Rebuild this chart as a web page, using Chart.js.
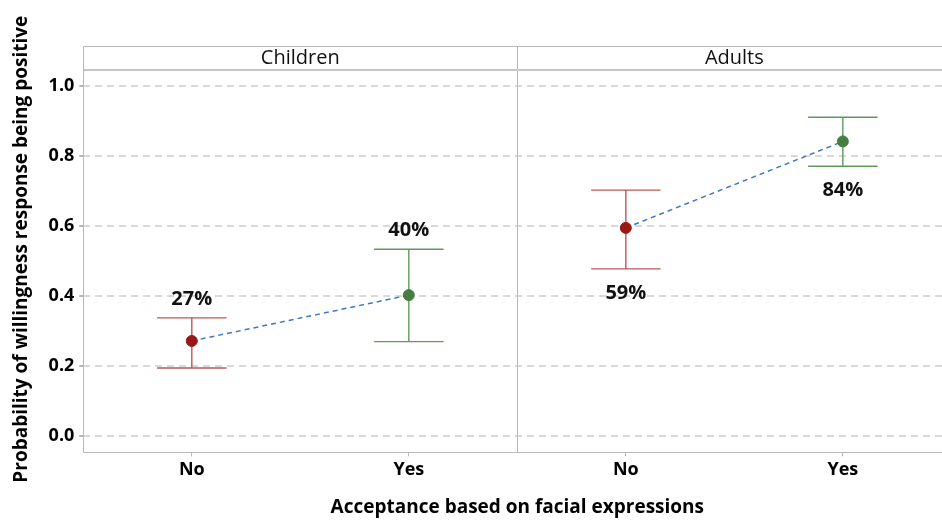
<!DOCTYPE html>
<html>
<head>
<meta charset="utf-8">
<script src="https://cdn.jsdelivr.net/npm/chart.js@4"></script>
<style>
html,body{margin:0;padding:0;background:#fff;}
#wrap{width:942px;height:520px;position:relative;}
</style>
</head>
<body>
<div id="wrap"><canvas id="c" width="942" height="520"></canvas></div>
<script>
// ---- data ----
const panels = ['Children', 'Adults'];
const categories = ['No', 'Yes'];
const childrenProb = [0.271, 0.402];
const childrenLow  = [0.194, 0.269];
const childrenHigh = [0.337, 0.533];
const adultsProb = [0.594, 0.841];
const adultsLow  = [0.477, 0.770];
const adultsHigh = [0.702, 0.910];
const childrenLabels = ['27%', '40%'];
const adultsLabels = ['59%', '84%'];
const labelPlacement = [['above', 'above'], ['below', 'below']];
const yTicks = [0.0, 0.2, 0.4, 0.6, 0.8, 1.0];
const xTitle = 'Acceptance based on facial expressions';
const yTitle = 'Probability of willingness response being positive';

const probs = [childrenProb, adultsProb];
const lows = [childrenLow, adultsLow];
const highs = [childrenHigh, adultsHigh];
const pctLabels = [childrenLabels, adultsLabels];

const catColors = ['#981818', '#467d40'];
const barColors = ['#bf5656', '#5f9a59'];
const FONT = "'Open Sans', 'DejaVu Sans', sans-serif";

function xPos(p, c) { return p * categories.length + c + 0.5; }

const xTickVals = [];
const xTickText = {};
panels.forEach((p, pi) => categories.forEach((c, ci) => {
  xTickVals.push(xPos(pi, ci));
  xTickText[xPos(pi, ci)] = c;
}));

const lineSets = panels.map((p, pi) => ({
  type: 'line',
  label: p,
  data: categories.map((c, ci) => ({ x: xPos(pi, ci), y: probs[pi][ci] })),
  borderColor: '#3c78c6',
  borderWidth: 1.5,
  borderDash: [5, 4],
  pointRadius: 0,
  fill: false,
  order: 2
}));

const pointSet = {
  type: 'scatter',
  label: 'points',
  data: [],
  pointBackgroundColor: [],
  pointBorderColor: [],
  pointRadius: 5.5,
  pointHoverRadius: 5.5,
  order: 1
};
panels.forEach((p, pi) => categories.forEach((c, ci) => {
  pointSet.data.push({ x: xPos(pi, ci), y: probs[pi][ci] });
  pointSet.pointBackgroundColor.push(catColors[ci]);
  pointSet.pointBorderColor.push(catColors[ci]);
}));

const FRAME_TOP = 46;
const X_MAX = 3.957;
const PANEL_END = panels.length * categories.length;

const errorBars = {
  id: 'errorBars',
  beforeDatasetsDraw(chart) {
    const { ctx, scales: { x, y } } = chart;
    ctx.save();
    panels.forEach((p, pi) => categories.forEach((c, ci) => {
      const px = x.getPixelForValue(xPos(pi, ci));
      const yl = y.getPixelForValue(lows[pi][ci]);
      const yh = y.getPixelForValue(highs[pi][ci]);
      const capW = x.getPixelForValue(0.16) - x.getPixelForValue(0);
      ctx.strokeStyle = barColors[ci];
      ctx.lineWidth = 1.4;
      ctx.beginPath();
      ctx.moveTo(px, yl); ctx.lineTo(px, yh);
      ctx.moveTo(px - capW, yl); ctx.lineTo(px + capW, yl);
      ctx.moveTo(px - capW, yh); ctx.lineTo(px + capW, yh);
      ctx.stroke();
    }));
    ctx.restore();
  },
  afterDraw(chart) {
    const { ctx, chartArea: a, scales: { x, y } } = chart;
    ctx.save();
    // frame
    ctx.strokeStyle = '#b8b8b8';
    ctx.lineWidth = 1;
    const L = Math.round(a.left) + 0.5;
    const B = Math.round(a.bottom) + 0.5;
    ctx.beginPath();
    ctx.moveTo(a.right + 20, FRAME_TOP + 0.5);
    ctx.lineTo(L, FRAME_TOP + 0.5);
    ctx.lineTo(L, B);
    ctx.lineTo(a.right + 20, B);
    for (let pi = 1; pi < panels.length; pi++) {
      const dx = Math.round(x.getPixelForValue(pi * categories.length)) + 0.5;
      ctx.moveTo(dx, FRAME_TOP);
      ctx.lineTo(dx, B);
    }
    ctx.stroke();
    ctx.strokeStyle = '#c6c6c6';
    ctx.lineWidth = 2;
    ctx.beginPath();
    ctx.moveTo(L, a.top);
    ctx.lineTo(a.right + 20, a.top);
    ctx.stroke();
    // panel headers
    ctx.fillStyle = '#111';
    ctx.font = "20px " + FONT;
    ctx.textAlign = 'center';
    ctx.textBaseline = 'middle';
    panels.forEach((p, pi) => {
      const cx = x.getPixelForValue(pi * categories.length + categories.length / 2);
      ctx.fillText(p, cx, (FRAME_TOP + a.top) / 2);
    });
    // percentage labels
    ctx.font = "bold 20px " + FONT;
    ctx.fillStyle = '#111';
    ctx.textBaseline = 'middle';
    panels.forEach((p, pi) => categories.forEach((c, ci) => {
      const px = x.getPixelForValue(xPos(pi, ci));
      if (labelPlacement[pi][ci] === 'above') {
        ctx.fillText(pctLabels[pi][ci], px, y.getPixelForValue(highs[pi][ci]) - 19);
      } else {
        ctx.fillText(pctLabels[pi][ci], px, y.getPixelForValue(lows[pi][ci]) + 24);
      }
    }));
    // axis titles
    ctx.fillStyle = '#000';
    ctx.font = "bold 19px " + FONT;
    const midX = x.getPixelForValue(PANEL_END / 2);
    ctx.fillText(xTitle, midX, 508);
    ctx.translate(22, (FRAME_TOP + a.bottom) / 2);
    ctx.rotate(-Math.PI / 2);
    ctx.fillText(yTitle, 0, 0);
    ctx.restore();
  }
};

new Chart(document.getElementById('c'), {
  data: { datasets: [...lineSets, pointSet] },
  options: {
    responsive: false,
    animation: false,
    events: [],
    layout: { autoPadding: false, padding: { top: 70, right: 0, left: 0, bottom: 0 } },
    plugins: { legend: { display: false }, tooltip: { enabled: false } },
    scales: {
      x: {
        type: 'linear',
        min: 0,
        max: X_MAX,
        afterBuildTicks: s => { s.ticks = xTickVals.map(v => ({ value: v })); },
        afterFit: s => { s.height = 67.7; },
        ticks: {
          callback: v => xTickText[v] || '',
          color: '#000',
          font: { family: FONT, size: 18, weight: 'bold' },
          padding: 3,
          maxRotation: 0,
          autoSkip: false
        },
        grid: { drawOnChartArea: false, drawTicks: true, tickLength: 4, tickColor: '#b8b8b8' },
        border: { display: false }
      },
      y: {
        type: 'linear',
        min: -0.047,
        max: 1.045,
        afterBuildTicks: s => { s.ticks = yTicks.map(v => ({ value: v })); },
        afterFit: s => { s.width = 83.3; },
        ticks: {
          callback: v => v.toFixed(1),
          color: '#000',
          font: { family: FONT, size: 18, weight: 'bold' },
          padding: 5
        },
        grid: { color: '#d9d9d9', lineWidth: 2, drawTicks: true, tickLength: 4, tickColor: '#b8b8b8', tickBorderDash: [] },
        border: { display: false, dash: [7, 5] }
      }
    }
  },
  plugins: [errorBars]
});
</script>
</body>
</html>
